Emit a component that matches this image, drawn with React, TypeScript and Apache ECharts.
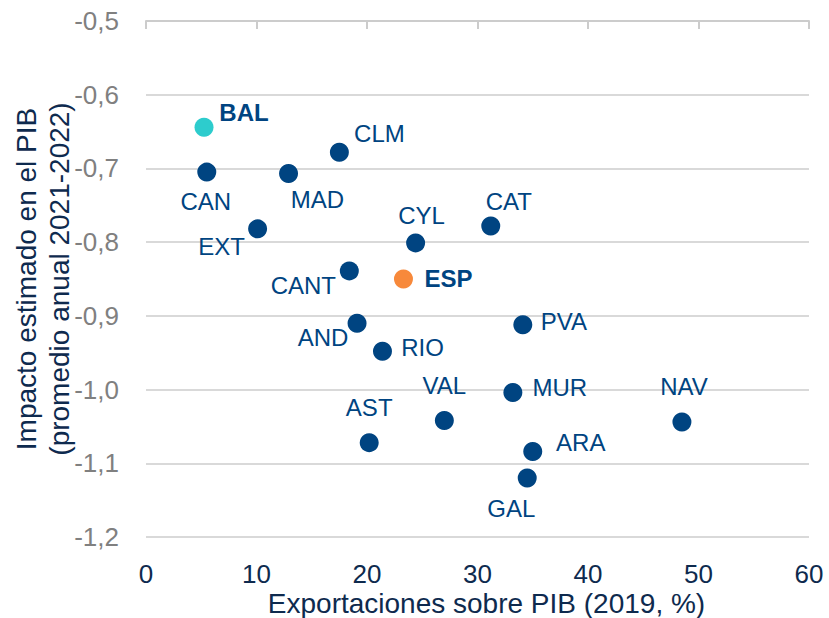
import React, { useEffect, useRef } from "react";
import * as echarts from "echarts";

// ---- Data ----
const regions = ["BAL", "CAN", "MAD", "CLM", "EXT", "CYL", "CAT", "CANT", "ESP", "AND", "RIO", "PVA", "MUR", "VAL", "NAV", "AST", "ARA", "GAL"];
const exportsPct = [5.25, 5.5, 12.9, 17.5, 10.1, 24.4, 31.2, 18.4, 23.3, 19.1, 21.4, 34.1, 33.2, 27.0, 48.5, 20.2, 35.0, 34.5];
const impactPib = [-0.644, -0.705, -0.707, -0.678, -0.782, -0.801, -0.778, -0.839, -0.85, -0.91, -0.948, -0.912, -1.004, -1.042, -1.044, -1.072, -1.084, -1.12];
const highlighted = ["BAL", "ESP"];

const xTitle = "Exportaciones sobre PIB (2019, %)";
const yTitle = "Impacto estimado en el PIB\n(promedio anual 2021-2022)";

// ---- Label placement (pixel offsets from point centre) ----
const labelOffsets: Record<string, [number, number]> = {
  BAL: [40, -15],
  CAN: [-1, 29],
  MAD: [29, 26],
  CLM: [40, -19],
  EXT: [-36, 18],
  CYL: [6, -27],
  CAT: [18, -24],
  CANT: [-46, 15],
  ESP: [45, -1],
  AND: [-34, 14],
  RIO: [40, -4],
  PVA: [41, -3],
  MUR: [47, -5],
  VAL: [0, -35],
  NAV: [2, -36],
  AST: [0, -35],
  ARA: [48, -9],
  GAL: [-16, 30],
};

const pointColors: Record<string, string> = {
  BAL: "#2DCCCD",
  ESP: "#F7893B",
};
const NAVY = "#004481";
const DARK = "#0E2A4E";
const FONT = "'Liberation Sans', Arial, sans-serif";

export default function App() {
  const ref = useRef<HTMLDivElement>(null);

  useEffect(() => {
    document.body.style.margin = "0";
    if (!ref.current) return;
    const chart = echarts.init(ref.current, undefined, { renderer: "svg" });

    const data = regions.map((r, i) => ({
      name: r,
      value: [exportsPct[i], impactPib[i]],
      itemStyle: { color: pointColors[r] || NAVY, opacity: 1 },
      label: {
        show: true,
        formatter: r,
        position: "inside",
        offset: labelOffsets[r],
        align: "center",
        verticalAlign: "middle",
        color: NAVY,
        fontSize: 24,
        fontFamily: FONT,
        fontWeight: highlighted.includes(r) ? "bold" : "normal",
      },
    }));

    const fmt = (v: number) => v.toFixed(1).replace(".", ",");

    chart.setOption({
      animation: false,
      backgroundColor: "#ffffff",
      grid: {
        left: 146,
        right: 20,
        top: 21,
        bottom: 81,
        containLabel: false,
        outerBoundsMode: "none",
      },
      xAxis: [
        {
          type: "value",
          position: "bottom",
          min: 0,
          max: 60,
          interval: 10,
          axisLine: { show: false },
          axisTick: { show: false },
          splitLine: { show: false },
          axisLabel: { color: DARK, fontSize: 26, fontFamily: FONT, margin: 24 },
          name: xTitle,
          nameLocation: "middle",
          nameGap: 52,
          nameMoveOverlap: false,
          nameTextStyle: { color: DARK, fontSize: 28, lineHeight: 28, fontFamily: FONT, padding: [0, 0, 0, 18] },
        },
        {
          type: "value",
          position: "top",
          min: 0,
          max: 60,
          interval: 10,
          axisLine: { show: true, onZero: false, lineStyle: { color: "#cccccc", width: 2 } },
          axisTick: { show: true, inside: true, length: 8, lineStyle: { color: "#cccccc", width: 2 } },
          axisLabel: { show: false },
          splitLine: { show: false },
        },
      ],
      yAxis: {
        type: "value",
        min: -1.2,
        max: -0.5,
        interval: 0.1,
        axisLine: { show: false },
        axisTick: { show: false },
        splitLine: { show: true, lineStyle: { color: "#d9d9d9", width: 2 } },
        axisLabel: { color: "#808080", fontSize: 26, fontFamily: FONT, margin: 27, formatter: fmt },
        name: yTitle,
        nameLocation: "middle",
        nameRotate: 90,
        nameGap: 70,
        nameMoveOverlap: false,
        nameTextStyle: { color: DARK, fontSize: 28, fontFamily: FONT, lineHeight: 33 },
      },
      series: [
        {
          type: "scatter",
          xAxisIndex: 0,
          symbol: "circle",
          symbolSize: 19,
          data,
          itemStyle: { opacity: 1 },
          emphasis: { disabled: true },
        },
      ],
    });

    return () => chart.dispose();
  }, []);

  return <div ref={ref} style={{ width: 829, height: 618 }} />;
}
